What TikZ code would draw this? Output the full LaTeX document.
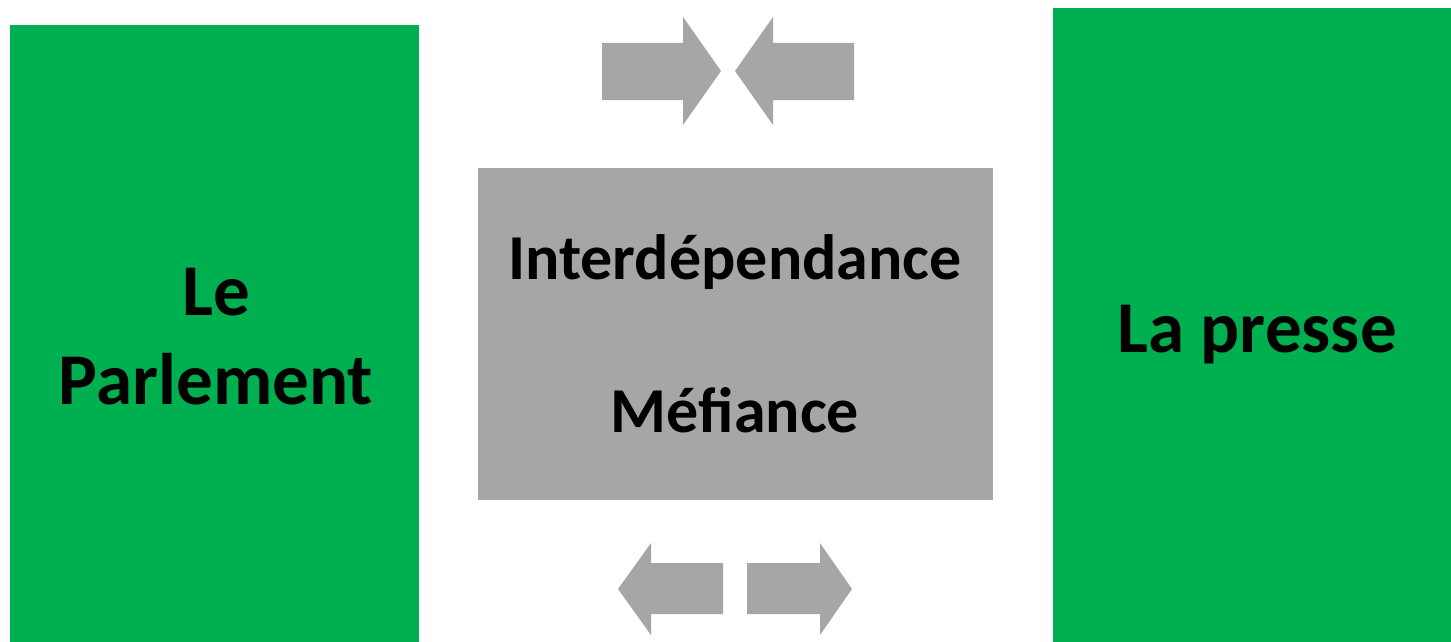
\documentclass[tikz,border=0pt]{standalone}
\usepackage{fontspec}
\setmainfont{Carlito}
\definecolor{boxgreen}{HTML}{00B050}
\definecolor{boxgray}{HTML}{A6A6A6}
\begin{document}
\begin{tikzpicture}[x=1pt,y=-1pt,
  greenbox/.style={fill=boxgreen,draw=none,inner sep=0pt,outer sep=0pt},
  graybox/.style={fill=boxgray,draw=none,inner sep=0pt,outer sep=0pt},
  blockarrow/.style={fill=boxgray,draw=none},
  bigtext/.style={font=\fontsize{73}{89}\selectfont\bfseries,inner sep=0pt,anchor=base},
  midtext/.style={font=\fontsize{64}{77}\selectfont\bfseries,inner sep=0pt,anchor=base}]
\useasboundingbox[fill=white] (0,0) rectangle (1451,642);
% boxes
\node[greenbox,minimum width=409pt,minimum height=617pt] (parl) at (214.5,333.5) {};
\node[greenbox,minimum width=398pt,minimum height=634pt] (presse) at (1252,325) {};
\node[graybox,minimum width=515pt,minimum height=332pt] (centre) at (735.5,334) {};
% texts
\node[bigtext] (le) at (216,315) {Le};
\node[bigtext] (parlement) at (216,404) {Parlement};
\node[bigtext] (lapresse) at (1257,352) {La presse};
\node[midtext] (interdep) at (735,279) {Interdépendance};
\node[midtext] (mefiance) at (735,432) {Méfiance};
% top arrows (pointing towards each other)
\fill[blockarrow] (602,43) -- (683,43) -- (683,17) -- (721,71) -- (683,125) -- (683,100) -- (602,100) -- cycle;
\fill[blockarrow] (854,43) -- (773,43) -- (773,17) -- (735,71) -- (773,125) -- (773,100) -- (854,100) -- cycle;
% bottom arrows (pointing away)
\fill[blockarrow] (723,563) -- (651,563) -- (651,543) -- (618,589) -- (651,635) -- (651,614) -- (723,614) -- cycle;
\fill[blockarrow] (747,563) -- (820,563) -- (820,543) -- (852,589) -- (820,635) -- (820,614) -- (747,614) -- cycle;
\end{tikzpicture}
\end{document}
